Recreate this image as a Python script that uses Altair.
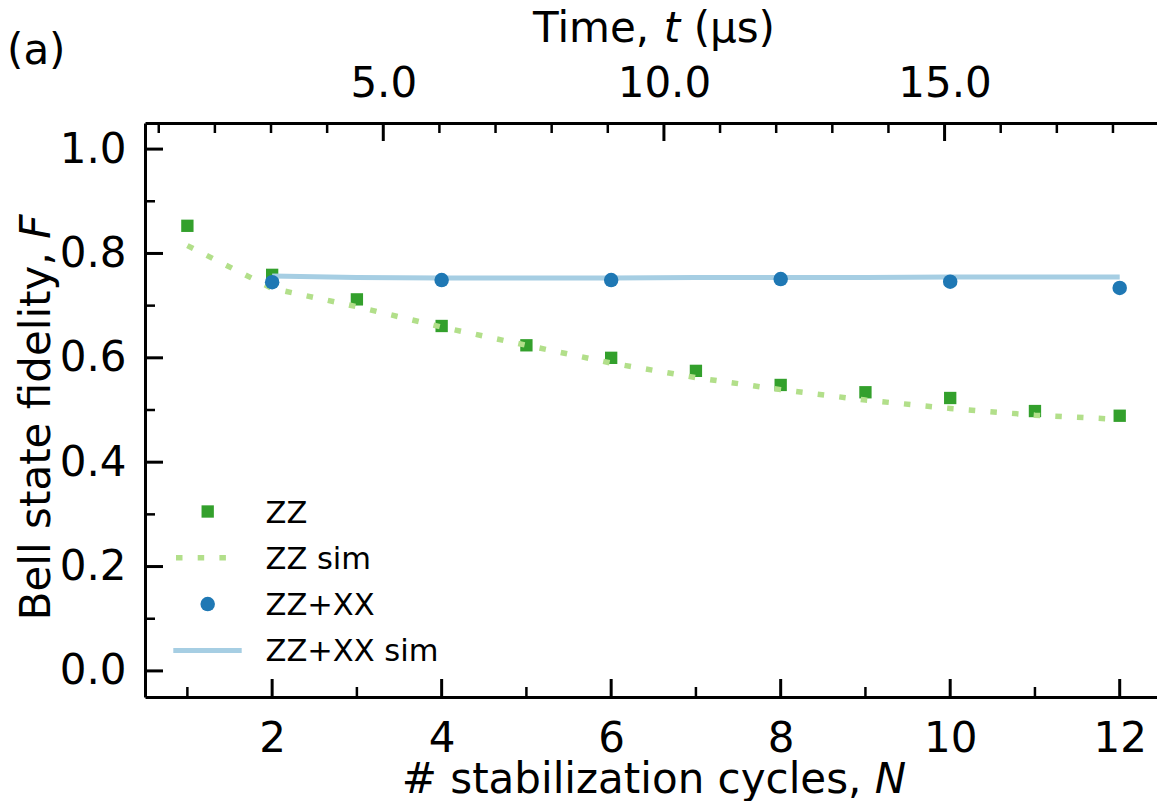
import altair as alt
import pandas as pd

# ---------------- data ----------------
N_ZZ = [1, 2, 3, 4, 5, 6, 7, 8, 9, 10, 11, 12]
F_ZZ = [0.853, 0.759, 0.712, 0.661, 0.624, 0.600, 0.575, 0.548, 0.534, 0.523, 0.498, 0.489]

N_ZZ_SIM = [1, 2, 3, 4, 5, 6, 7, 8, 9, 10, 11, 12]
F_ZZ_SIM = [0.815, 0.733, 0.698, 0.659, 0.624, 0.590, 0.562, 0.539, 0.519, 0.503, 0.490, 0.482]

N_ZZXX = [2, 4, 6, 8, 10, 12]
F_ZZXX = [0.745, 0.749, 0.749, 0.751, 0.746, 0.734]

N_ZZXX_SIM = [2, 3, 4, 5, 6, 7, 8, 9, 10, 11, 12]
F_ZZXX_SIM = [0.757, 0.754, 0.753, 0.753, 0.753, 0.754, 0.754, 0.754, 0.755, 0.755, 0.755]

X_MAJOR = [2, 4, 6, 8, 10, 12]
X_MINOR = [1, 3, 5, 7, 9, 11]
Y_MAJOR = [0.0, 0.2, 0.4, 0.6, 0.8, 1.0]
Y_MINOR = [0.1, 0.3, 0.5, 0.7, 0.9]
T_MAJOR = [5, 10, 15]
T_MINOR = [1, 2, 3, 4, 6, 7, 8, 9, 11, 12, 13, 14, 16, 17, 18]
CYCLE_US = 1.51  # microseconds per stabilization cycle (top axis)

LEGEND_LABELS = ["ZZ", "ZZ sim", "ZZ+XX", "ZZ+XX sim"]

# ---------------- styling / layout ----------------
FONT = "DejaVu Sans"
FS = 42
LEG_FS = 30.5
W, H = 1012, 574
X_DOM = [0.5, 12.44]
Y_DOM = [-0.05, 1.05]
C_ZZ = "#33a02c"
C_ZZ_SIM = "#b2df8a"
C_XX = "#1f78b4"
C_XX_SIM = "#a6cee3"

# DejaVu Sans advance widths (em) for title layout
ADV = {'#': 0.838, ' ': 0.318, 's': 0.521, 't': 0.392, 'a': 0.613, 'b': 0.635, 'i': 0.278,
       'l': 0.278, 'z': 0.525, 'o': 0.612, 'n': 0.634, 'c': 0.550, 'y': 0.592, 'e': 0.615,
       ',': 0.318, 'N': 0.748, 'B': 0.686, 'f': 0.352, 'd': 0.635, 'F': 0.575, 'T': 0.611,
       'm': 0.974, '(': 0.390, ')': 0.390, 'μ': 0.636}


def tw(s, fs=FS):
    return sum(ADV.get(ch, 0.6) for ch in s) * fs


xs = alt.Scale(domain=X_DOM, nice=False, zero=False)
ys = alt.Scale(domain=Y_DOM, nice=False, zero=False)

x_axis = alt.Axis(orient="bottom", values=X_MAJOR, format="d", ticks=False, tickSize=0,
                  labelPadding=21, labelFlush=False, labelOverlap=False, title=None,
                  grid=False, domain=True, domainColor="black", domainWidth=3)
y_axis = alt.Axis(orient="left", values=Y_MAJOR, format=".1f", ticks=False, tickSize=0,
                  labelPadding=19, labelFlush=False, labelOverlap=False, title=None,
                  grid=False, domain=True, domainColor="black", domainWidth=3)


def X(field):
    return alt.X(field, type="quantitative", scale=xs, axis=x_axis)


def Y(field):
    return alt.Y(field, type="quantitative", scale=ys, axis=y_axis)


df_zz = pd.DataFrame({"N": N_ZZ, "F": F_ZZ})
df_zz_sim = pd.DataFrame({"N": N_ZZ_SIM, "F": F_ZZ_SIM})
df_xx = pd.DataFrame({"N": N_ZZXX, "F": F_ZZXX})
df_xx_sim = pd.DataFrame({"N": N_ZZXX_SIM, "F": F_ZZXX_SIM})

zz_pts = alt.Chart(df_zz).mark_point(shape="square", filled=True, size=152, color=C_ZZ,
                                     opacity=1).encode(x=X("N"), y=Y("F"))
zz_sim = alt.Chart(df_zz_sim).mark_line(color=C_ZZ_SIM, strokeWidth=5.5,
                                        strokeDash=[6.5, 15.2]).encode(x=X("N"), y=Y("F"))
xx_sim = alt.Chart(df_xx_sim).mark_line(color=C_XX_SIM, strokeWidth=5).encode(x=X("N"), y=Y("F"))
xx_pts = alt.Chart(df_xx).mark_circle(size=210, color=C_XX, opacity=1).encode(x=X("N"), y=Y("F"))


# inward ticks (bottom and left)
def xticks(vals, length, width):
    return alt.Chart(pd.DataFrame({"N": vals})).mark_rule(color="black", strokeWidth=width).encode(
        x=X("N"), y=alt.value(H), y2=alt.value(H - length))


def yticks(vals, length, width):
    return alt.Chart(pd.DataFrame({"F": vals})).mark_rule(color="black", strokeWidth=width).encode(
        y=Y("F"), x=alt.value(0), x2=alt.value(length))


# legend (manual, inside lower-left)
LEG_Y0, LEG_DY = 388.5, 46.3
leg_df = pd.DataFrame({"label": LEGEND_LABELS,
                       "ly": [LEG_Y0 + i * LEG_DY for i in range(len(LEGEND_LABELS))]})
leg_base = alt.Chart(leg_df)
leg_text = leg_base.mark_text(align="left", baseline="middle", dy=2, font=FONT,
                              fontSize=LEG_FS, color="black").encode(
    x=alt.value(120.5), y=alt.Y("ly:Q", scale=None), text="label:N")
leg_sq = leg_base.transform_filter(alt.datum.label == "ZZ").mark_point(
    shape="square", filled=True, size=152, color=C_ZZ, opacity=1).encode(
    x=alt.value(62.7), y=alt.Y("ly:Q", scale=None))
leg_dot = leg_base.transform_filter(alt.datum.label == "ZZ sim").mark_rule(
    color=C_ZZ_SIM, strokeWidth=5.5, strokeDash=[6.5, 15.2]).encode(
    x=alt.value(31), x2=alt.value(82), y=alt.Y("ly:Q", scale=None))
leg_circ = leg_base.transform_filter(alt.datum.label == "ZZ+XX").mark_circle(
    size=210, color=C_XX, opacity=1).encode(
    x=alt.value(62.7), y=alt.Y("ly:Q", scale=None))
leg_line = leg_base.transform_filter(alt.datum.label == "ZZ+XX sim").mark_rule(
    color=C_XX_SIM, strokeWidth=5).encode(
    x=alt.value(28.3), x2=alt.value(96.7), y=alt.Y("ly:Q", scale=None))


# titles with italic symbols
def txt(s, x, y, italic=False, align="left", angle=0, fs=FS):
    kw = dict(align=align, baseline="alphabetic", font=FONT, fontSize=fs, color="black",
              text=s)
    if italic:
        kw["fontStyle"] = "italic"
    if angle:
        kw["angle"] = angle
    return alt.Chart(pd.DataFrame({"k": [0]})).mark_text(**kw).encode(
        x=alt.value(x), y=alt.value(y))


SP = tw(" ")

# bottom title: "# stabilization cycles, N"
xt_a, xt_b = "# stabilization cycles,", "N"
xt_cx = 509
xt_start = xt_cx - (tw(xt_a) + SP + tw(xt_b)) / 2
xt_y = H + 95.5
xtitle = [txt(xt_a, xt_start, xt_y),
          txt(xt_b, xt_start + tw(xt_a) + SP, xt_y, italic=True)]

# left title: "Bell state fidelity, F" (rotated, reads upward)
yt_a, yt_b = "Bell state fidelity,", "F"
yt_cy = 294.5
yt_start = yt_cy + (tw(yt_a) + SP + tw(yt_b)) / 2
yt_x = -95
ytitle = [txt(yt_a, yt_x, yt_start, angle=270),
          txt(yt_b, yt_x, yt_start - tw(yt_a) - SP, italic=True, angle=270)]

# top title: "Time, t (μs)"
tt_parts = [("Time,", False, 1), ("t", True, 1), ("(μs)", False, 0)]
tt_cx = 509
tt_total = sum(tw(s) + SP * g for s, _, g in tt_parts)
cur = tt_cx - tt_total / 2
ttitle = []
for s, it, g in tt_parts:
    ttitle.append(txt(s, cur, -81.3, italic=it))
    cur += tw(s) + SP * g

panel = txt("(a)", -138, -59)

inner = alt.layer(
    zz_pts, zz_sim, xx_sim, xx_pts,
    xticks(X_MAJOR, 18, 3), xticks(X_MINOR, 10, 2.5),
    yticks(Y_MAJOR, 18, 3), yticks(Y_MINOR, 10, 2.5),
    leg_sq, leg_dot, leg_circ, leg_line, leg_text,
    *xtitle, *ytitle, *ttitle, panel,
)

# top (time) axis with its own scale
ts = alt.Scale(domain=[X_DOM[0] * CYCLE_US, X_DOM[1] * CYCLE_US], nice=False, zero=False)
t_axis = alt.Axis(orient="top", values=T_MAJOR, format=".1f", ticks=False, tickSize=0,
                  labelPadding=17.5, labelFlush=False, labelOverlap=False, title=None,
                  grid=False, domain=True, domainColor="black", domainWidth=3)
top_major = alt.Chart(pd.DataFrame({"t": T_MAJOR})).mark_rule(color="black", strokeWidth=3).encode(
    x=alt.X("t:Q", scale=ts, axis=t_axis), y=alt.value(0), y2=alt.value(18))
top_minor = alt.Chart(pd.DataFrame({"t": T_MINOR})).mark_rule(color="black", strokeWidth=2.5).encode(
    x=alt.X("t:Q", scale=ts, axis=t_axis), y=alt.value(0), y2=alt.value(10))
top = alt.layer(top_major, top_minor)

chart = alt.layer(inner, top).resolve_scale(x="independent").resolve_axis(x="independent").properties(
    width=W, height=H,
    padding={"left": 145, "top": 123, "right": 0, "bottom": 801 - 123 - H},
    autosize=alt.AutoSizeParams(type="none"),
    background="white",
).configure_view(stroke=None).configure_axis(
    labelFont=FONT, labelFontSize=FS, labelColor="black", grid=False
)

chart.save("out.html", embed_options={"renderer": "svg", "actions": False})
